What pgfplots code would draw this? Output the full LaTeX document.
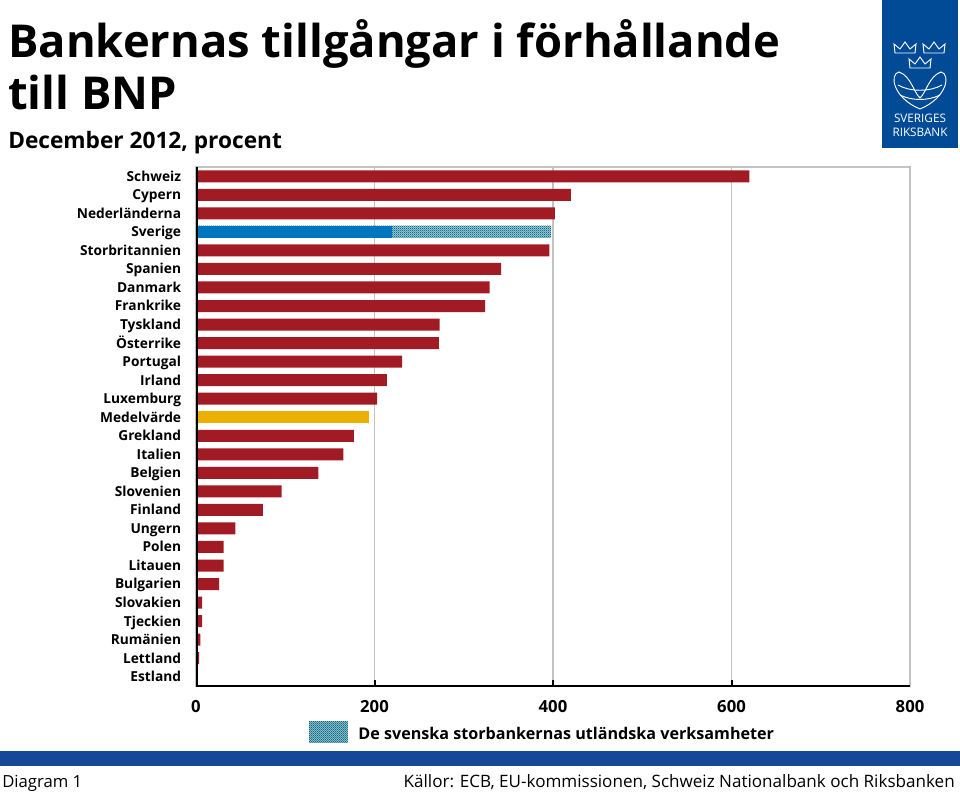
\documentclass[border=0pt]{standalone}
\usepackage{fontspec}
\setmainfont{Open Sans}
\usepackage{pgfplots}
\pgfplotsset{compat=1.18}
\usetikzlibrary{patterns}
\definecolor{rbred}{RGB}{162,27,36}
\definecolor{rbblue}{RGB}{0,118,190}
\definecolor{rbgold}{RGB}{235,176,0}
\definecolor{rbnavy}{RGB}{0,74,150}
\definecolor{footblue}{RGB}{22,72,152}
\definecolor{hatchbg}{RGB}{150,205,222}
\definecolor{hatchdot}{RGB}{25,105,125}
\definecolor{gridgray}{RGB}{195,195,195}
\pgfdeclarepatternformonly{finecheck}{\pgfpointorigin}{\pgfqpoint{1.6pt}{1.6pt}}{\pgfqpoint{1.6pt}{1.6pt}}{%
  \pgfpathrectangle{\pgfpointorigin}{\pgfqpoint{0.8pt}{0.8pt}}%
  \pgfpathrectangle{\pgfqpoint{0.8pt}{0.8pt}}{\pgfqpoint{0.8pt}{0.8pt}}%
  \pgfusepath{fill}}
\pgfplotstableread{
v idx
620 0
420 1
402 2
396 4
342 5
329 6
324 7
273 8
272 9
231 10
214 11
203 12
177 14
165 15
137 16
96 17
75 18
44 19
31 20
31 21
26 22
7 23
7 24
5 25
3.5 26
2 27
}\redbars
\pgfplotstableread{
v idx
194 13
}\goldbars
\pgfplotstableread{
v idx
398 3
}\hatchbars
\pgfplotstableread{
v idx
220 3
}\bluebars
\begin{document}
\begin{tikzpicture}[x=0.75pt,y=0.75pt]
\useasboundingbox (0,0) rectangle (960,793);
\begin{axis}[
  at={(147pt,80.25pt)}, anchor=south west,
  scale only axis, width=535.5pt, height=389.25pt,
  xmin=0, xmax=800, ymin=-0.5, ymax=27.5,
  y dir=reverse,
  xbar, bar width=9pt, bar shift=0pt,
  axis line style={gridgray, line width=0.9pt},
  xtick={0,200,...,800}, xtick pos=left, tick align=inside,
  xmajorgrids, x grid style={gridgray, line width=0.9pt},
  xtick style={black, line width=1.5pt},
  major tick length=4.5pt,
  ytick={0,...,27}, ytick pos=left,
  ytick style={draw=none},
  minor ytick={-0.5,0.5,...,27.5},
  minor y tick style={black, line width=2pt},
  minor tick length=3.5pt,
  yticklabels={Schweiz,Cypern,Nederländerna,Sverige,Storbritannien,Spanien,Danmark,Frankrike,Tyskland,Österrike,Portugal,Irland,Luxemburg,Medelvärde,Grekland,Italien,Belgien,Slovenien,Finland,Ungern,Polen,Litauen,Bulgarien,Slovakien,Tjeckien,Rumänien,Lettland,Estland},
  yticklabel style={font=\fontsize{10.3pt}{12pt}\selectfont\bfseries, anchor=base east, inner sep=0pt, xshift=-11pt, yshift=-3.7pt},
  xticklabel style={font=\fontsize{12.5pt}{14pt}\selectfont\bfseries, inner sep=0pt, yshift=-10.5pt},
  /pgf/number format/assume math mode=true,
  legend style={at={(0.158,-0.0906)}, anchor=west, draw=none, fill=none, inner sep=0pt,
    font=\fontsize{12.1pt}{14pt}\selectfont\bfseries, legend cell align=left},
  legend image code/.code={\path[fill=hatchbg, postaction={pattern=finecheck, pattern color=hatchdot}] (0pt,-6pt) rectangle (29pt,10pt);},
]
\addplot[fill=rbred, draw=none, forget plot] table[x=v,y=idx] {\redbars};
\addplot[fill=rbgold, draw=none, forget plot] table[x=v,y=idx] {\goldbars};
\addplot[fill=hatchbg, draw=none, postaction={pattern=finecheck, pattern color=hatchdot}] table[x=v,y=idx] {\hatchbars};
\addlegendentry{\hspace{6pt}De svenska storbankernas utländska verksamheter}
\addplot[fill=rbblue, draw=none, forget plot] table[x=v,y=idx] {\bluebars};
\draw[black, line width=2.6pt] (axis description cs:0,0) -- (axis description cs:0,1);
\draw[black, line width=2pt] (axis description cs:0,0) -- (axis description cs:1,0);
\end{axis}
% title
\node[anchor=base west, inner sep=0pt] at (8,735) {\fontsize{34pt}{40pt}\selectfont\bfseries Bankernas tillgångar i förhållande};
\node[anchor=base west, inner sep=0pt] at (8,683) {\fontsize{34pt}{40pt}\selectfont\bfseries till BNP};
\node[anchor=base west, inner sep=0pt] at (8,644) {\fontsize{17pt}{20pt}\selectfont\bfseries December 2012, procent};
% logo
\fill[rbnavy] (882,645) rectangle (958,793);
\begin{scope}[white, line width=0.7pt]
\foreach \cx/\cy in {905/740, 934/740, 920/725}{
  \draw (\cx-10,\cy) -- (\cx-11,\cy+9) -- (\cx-5,\cy+4) -- (\cx,\cy+11) -- (\cx+5,\cy+4) -- (\cx+11,\cy+9) -- (\cx+10,\cy) -- cycle;
}
\draw (920,684) .. controls (893,695) and (889,719) .. (899,721) .. controls (911,717) and (914,700) .. (920,695) .. controls (926,700) and (929,717) .. (941,721) .. controls (951,719) and (947,695) .. (920,684);
\draw (898,708) .. controls (910,701) and (930,701) .. (942,708);
\draw (900,698) .. controls (912,692) and (928,692) .. (940,698);
\end{scope}
\node[white, inner sep=0pt, anchor=base] at (920,670) {\fontsize{8.8pt}{10pt}\selectfont SVERIGES};
\node[white, inner sep=0pt, anchor=base] at (920,656) {\fontsize{8.8pt}{10pt}\selectfont RIKSBANK};
% footer
\fill[footblue] (0,27) rectangle (960,42);
\node[anchor=base west, inner sep=0pt] at (2,6) {\fontsize{12.5pt}{14pt}\selectfont Diagram 1};
\node[anchor=base east, inner sep=0pt] at (955,6) {\fontsize{12.8pt}{14pt}\selectfont Källor: ECB, EU-kommissionen, Schweiz Nationalbank och Riksbanken};
\end{tikzpicture}
\end{document}
